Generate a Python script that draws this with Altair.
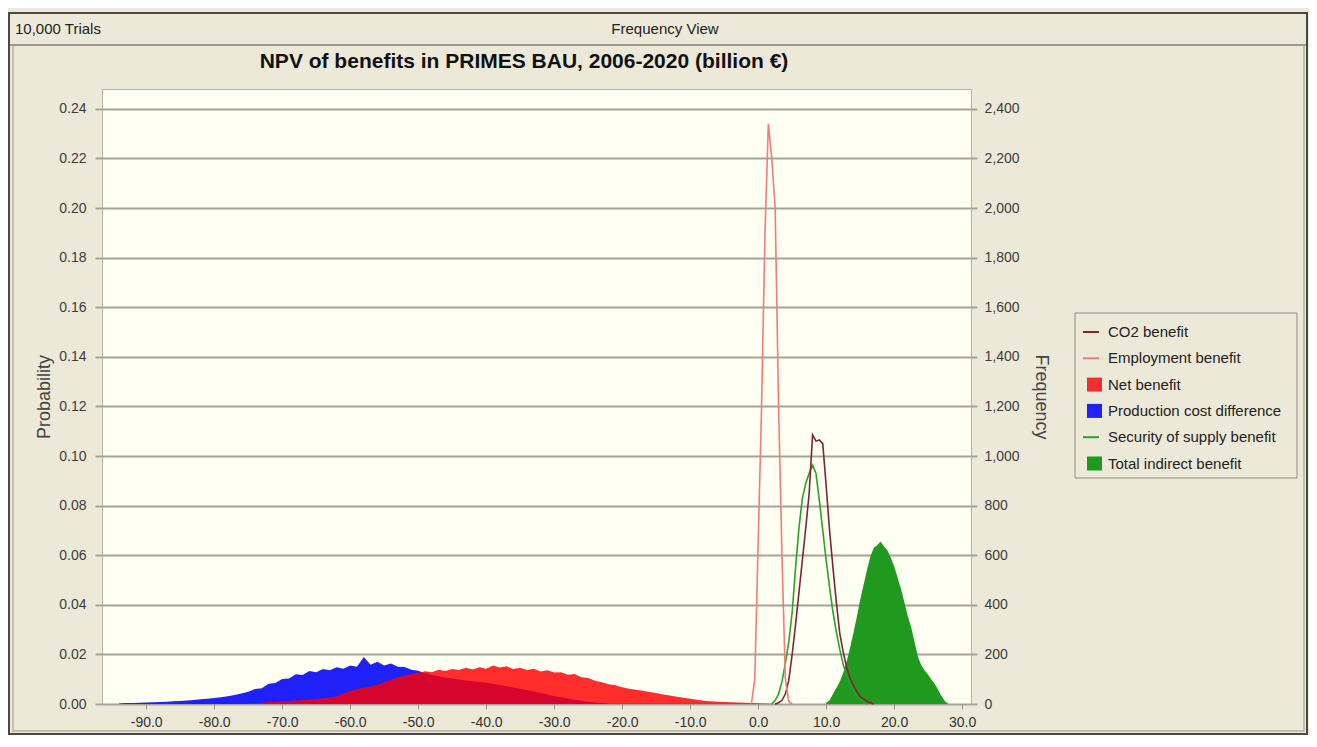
import altair as alt
import pandas as pd

# ---------------- text ----------------
TITLE = "NPV of benefits in PRIMES BAU, 2006-2020 (billion €)"
HEADER_LEFT = "10,000 Trials"
HEADER_CENTER = "Frequency View"
Y_LEFT_TITLE = "Probability"
Y_RIGHT_TITLE = "Frequency"

series_names = ["CO2 benefit", "Employment benefit", "Net benefit",
                "Production cost difference", "Security of supply benefit",
                "Total indirect benefit"]
series_kinds = ["line", "line", "area", "area", "line", "area"]
series_colors = ["#7B2633", "#F07C7C", "#FF0000", "#2020F8", "#2CA02C", "#1F9A1F"]

# ---------------- data (probability per bin) ----------------
# Production cost difference, 1-unit bins starting at -94
prod_start = -94
prod_p = [0.0002, 0.0004, 0.0004, 0.0005, 0.0006, 0.0007, 0.0008, 0.0009, 0.0011, 0.0012,
          0.0014, 0.0016, 0.0019, 0.0021, 0.0024, 0.0027, 0.0031, 0.0036, 0.0042, 0.0049,
          0.0060, 0.0064, 0.0082, 0.0085, 0.0101, 0.0103, 0.0120, 0.0117, 0.0133, 0.0128,
          0.0141, 0.0136, 0.0148, 0.0142, 0.0155, 0.0150, 0.0190, 0.0158, 0.0170, 0.0155,
          0.0163, 0.0150, 0.0149, 0.0138, 0.0134, 0.0124, 0.0118, 0.0112, 0.0107, 0.0103,
          0.0099, 0.0095, 0.0092, 0.0089, 0.0086, 0.0082, 0.0077, 0.0072, 0.0067, 0.0062,
          0.0056, 0.0050, 0.0044, 0.0038, 0.0032, 0.0027, 0.0022, 0.0017, 0.0013, 0.0009,
          0.0006, 0.0004, 0.0002]

# Net benefit, 1-unit bins starting at -75
net_start = -75
net_p = [0.0002, 0.0003, 0.0005, 0.0007, 0.0009, 0.0011, 0.0012, 0.0014, 0.0016, 0.0018,
         0.0020, 0.0023, 0.0026, 0.0030, 0.0042, 0.0052, 0.0060, 0.0066, 0.0071, 0.0078,
         0.0088, 0.0098, 0.0107, 0.0115, 0.0121, 0.0126, 0.0132, 0.0128, 0.0138, 0.0133,
         0.0141, 0.0137, 0.0146, 0.0139, 0.0148, 0.0142, 0.0155, 0.0147, 0.0152, 0.0141,
         0.0146, 0.0137, 0.0142, 0.0131, 0.0136, 0.0127, 0.0128, 0.0118, 0.0121, 0.0108,
         0.0105, 0.0094, 0.0088, 0.0080, 0.0076, 0.0068, 0.0062, 0.0057, 0.0053, 0.0048,
         0.0044, 0.0038, 0.0034, 0.0029, 0.0025, 0.0021, 0.0017, 0.0013, 0.0011, 0.0009,
         0.0008, 0.0007, 0.0006, 0.0005, 0.0004, 0.0003, 0.0002, 0.0001]

# Total indirect benefit, 0.5-unit bins
tot_x = [10.0, 10.5, 11.0, 11.5, 12.0, 12.5, 13.0, 13.5, 14.0, 14.5, 15.0, 15.5, 16.0, 16.5,
         17.0, 17.5, 18.0, 18.5, 19.0, 19.5, 20.0, 20.5, 21.0, 21.5, 22.0, 22.5, 23.0, 23.5,
         24.0, 24.5, 25.0, 25.5, 26.0, 26.5, 27.0, 27.5, 28.0]
tot_p = [0.0005, 0.0015, 0.0040, 0.0065, 0.0090, 0.0125, 0.0170, 0.0225, 0.0286, 0.0350,
         0.0420, 0.0480, 0.0540, 0.0595, 0.0630, 0.0640, 0.0655, 0.0635, 0.0620, 0.0590,
         0.0555, 0.0510, 0.0465, 0.0410, 0.0355, 0.0310, 0.0250, 0.0190, 0.0155, 0.0135,
         0.0118, 0.0098, 0.0080, 0.0055, 0.0030, 0.0010, 0.0]

# CO2 benefit
co2_x = [2.5, 3.0, 3.5, 4.0, 4.5, 5.0, 5.5, 6.0, 6.5, 7.0, 7.5, 8.0, 8.5, 9.0, 9.5, 10.0,
         10.5, 11.0, 11.5, 12.0, 12.5, 13.0, 13.5, 14.0, 14.5, 15.0, 15.5, 16.0, 16.5, 17.0]
co2_p = [0.0, 0.0005, 0.0015, 0.0040, 0.0095, 0.0200, 0.0320, 0.0450, 0.0580, 0.0710,
         0.0850, 0.1085, 0.1060, 0.1065, 0.1050, 0.0880, 0.0700, 0.0550, 0.0410, 0.0285,
         0.0210, 0.0150, 0.0105, 0.0075, 0.0050, 0.0030, 0.0020, 0.0010, 0.0005, 0.0]

# Security of supply benefit
sec_x = [2.0, 2.5, 3.0, 3.5, 4.0, 4.5, 5.0, 5.5, 6.0, 6.5, 7.0, 7.5, 8.0, 8.5, 9.0, 9.5,
         10.0, 10.5, 11.0, 11.5, 12.0, 12.5, 13.0, 13.5, 14.0, 14.5, 15.0, 15.5, 16.0]
sec_p = [0.0, 0.0015, 0.0040, 0.0090, 0.0165, 0.0250, 0.0370, 0.0550, 0.0710, 0.0830,
         0.0890, 0.0930, 0.0963, 0.0930, 0.0820, 0.0700, 0.0580, 0.0470, 0.0370, 0.0290,
         0.0220, 0.0160, 0.0115, 0.0080, 0.0055, 0.0035, 0.0020, 0.0010, 0.0]

# Employment benefit
emp_x = [-1.0, -0.5, 0.0, 0.5, 1.0, 1.5, 2.0, 2.5, 3.0, 3.5, 4.0, 4.5, 5.0]
emp_p = [0.0, 0.010, 0.065, 0.120, 0.190, 0.234, 0.220, 0.200, 0.120, 0.060, 0.010, 0.001, 0.0]

x_ticks = [-90, -80, -70, -60, -50, -40, -30, -20, -10, 0, 10, 20, 30]
y_ticks = [0.0, 0.02, 0.04, 0.06, 0.08, 0.10, 0.12, 0.14, 0.16, 0.18, 0.20, 0.22, 0.24]

prod_df = pd.DataFrame({"x": list(range(prod_start, prod_start + len(prod_p))), "p": prod_p})
net_df = pd.DataFrame({"x": list(range(net_start, net_start + len(net_p))), "p": net_p})
tot_df = pd.DataFrame({"x": tot_x, "p": tot_p})
co2_df = pd.DataFrame({"x": co2_x, "p": co2_p})
sec_df = pd.DataFrame({"x": sec_x, "p": sec_p})
emp_df = pd.DataFrame({"x": emp_x, "p": emp_p})

# ---------------- layout ----------------
FONT = "Liberation Sans"
OX, OY = 102, 89          # page position of plot origin
PW, PH = 869, 615         # plot area
TOTAL_W, TOTAL_H = 1301, 727
PAD_L, PAD_T = OX - 8, OY - 8
PAD_R = TOTAL_W - PAD_L - PW
PAD_B = TOTAL_H - PAD_T - PH

BG = "#ECE9D8"
GRID = "#A6A49A"
TICKFS = 14

xs = alt.Scale(domain=[-96.5, 31.3], nice=False, zero=False)
ys = alt.Scale(domain=[0, 0.248], nice=False, zero=True)

x_axis = alt.Axis(orient="bottom", values=x_ticks,
                  labelExpr="(datum.value < 0 ? '-' : '') + format(abs(datum.value), '.1f')",
                  grid=False, domain=False, ticks=True, tickColor="#8E8C84", tickSize=5,
                  tickWidth=1, labelPadding=6, labelFont=FONT, labelFontSize=TICKFS,
                  labelColor="#333333")

left_axis = alt.Axis(orient="left", values=y_ticks, format=".2f", grid=True, gridColor=GRID,
                     gridWidth=2, gridOpacity=1, tickColor=GRID, tickWidth=2, tickSize=7,
                     labelPadding=9, labelFont=FONT, labelFontSize=TICKFS, labelColor="#3C3C3C",
                     domain=False, title=Y_LEFT_TITLE, titleFont=FONT, titleFontSize=18,
                     titleFontWeight="normal", titleColor="#444444", titleAngle=270,
                     titleX=-58, titleY=PH / 2, titleBaseline="middle", titleAlign="center")

right_axis = alt.Axis(orient="right", values=y_ticks,
                      labelExpr="format(round(datum.value * 10000), ',')",
                      grid=False, tickColor=GRID, tickWidth=2, tickSize=6, labelPadding=7,
                      labelFont=FONT, labelFontSize=TICKFS, labelColor="#3C3C3C", domain=False,
                      title=Y_RIGHT_TITLE, titleFont=FONT, titleFontSize=18,
                      titleFontWeight="normal", titleColor="#444444", titleAngle=90,
                      titleX=69, titleY=PH / 2, titleBaseline="middle", titleAlign="center")


def enc(chart, xaxis=None, yaxis=None):
    return chart.encode(
        x=alt.X("x:Q", scale=xs, axis=xaxis, title=None),
        y=alt.Y("p:Q", scale=ys, axis=yaxis, title=None),
    )


def deco():
    return alt.Chart(alt.Data(values=[{"d": 0}]))


def px(v):
    return v - OX


def py(v):
    return v - OY


def frame(x1, y1, x2, y2, color, width):
    return deco().mark_rect(fillOpacity=0, stroke=color, strokeWidth=width).encode(
        x=alt.value(px(x1)), x2=alt.value(px(x2)), y=alt.value(py(y1)), y2=alt.value(py(y2)))


def hline(x1, x2, y, color, width):
    return deco().mark_rule(color=color, strokeWidth=width).encode(
        x=alt.value(px(x1)), x2=alt.value(px(x2)), y=alt.value(py(y)))


def label(x, y, s, size=11, weight="normal", align="left", color="#222222"):
    return deco().mark_text(align=align, baseline="middle", font=FONT, fontSize=size,
                            fontWeight=weight, color=color).encode(
        x=alt.value(px(x)), y=alt.value(py(y)), text=alt.value(s))


layers = []
# window decorations
layers.append(frame(9, 13, 1307, 734, "#4A4A44", 2))
layers.append(frame(13, 45, 1304, 731, "#B4B0A2", 1.5))
layers.append(hline(10, 1306, 45, "#9C998E", 2))
layers.append(label(15, 29, HEADER_LEFT, size=15))
layers.append(label(665, 29, HEADER_CENTER, size=15, align="center"))
layers.append(label(524, 62, TITLE, size=21, weight="bold", align="center", color="#111111"))

# data layers
colors = dict(zip(series_names, series_colors))
layers.append(enc(alt.Chart(prod_df).mark_area(color=colors["Production cost difference"]),
                  xaxis=x_axis, yaxis=left_axis))
layers.append(enc(alt.Chart(net_df).mark_area(color=colors["Net benefit"], fillOpacity=0.82),
                  yaxis=right_axis))
layers.append(enc(alt.Chart(tot_df).mark_area(color=colors["Total indirect benefit"])))
layers.append(enc(alt.Chart(sec_df).mark_line(color=colors["Security of supply benefit"], strokeWidth=1.6)))
layers.append(enc(alt.Chart(co2_df).mark_line(color=colors["CO2 benefit"], strokeWidth=1.6)))
layers.append(enc(alt.Chart(emp_df).mark_line(color=colors["Employment benefit"], strokeWidth=1.6)))

# legend
layers.append(frame(1075, 313, 1297, 478, "#8E8C84", 1))
for i, (name, kind, col) in enumerate(zip(series_names, series_kinds, series_colors)):
    yy = 332 + i * 26.3
    if kind == "line":
        layers.append(hline(1083, 1099, yy, col, 2))
    else:
        sq = col if name != "Net benefit" else "#F03030"
        layers.append(deco().mark_rect(color=sq).encode(
            x=alt.value(px(1087)), x2=alt.value(px(1102)),
            y=alt.value(py(yy - 7)), y2=alt.value(py(yy + 7))))
    layers.append(label(1108, yy, name, size=15))

chart = alt.layer(*layers).resolve_axis(x="independent", y="independent").properties(
    width=PW, height=PH,
    background=BG,
    padding={"left": PAD_L, "top": PAD_T, "right": PAD_R, "bottom": PAD_B},
    autosize=alt.AutoSizeParams(type="none"),
).configure_view(fill="#FFFFF2", stroke="#B5B2A6", strokeWidth=1)

chart.save("out.html", embed_options={"renderer": "svg", "actions": False})
